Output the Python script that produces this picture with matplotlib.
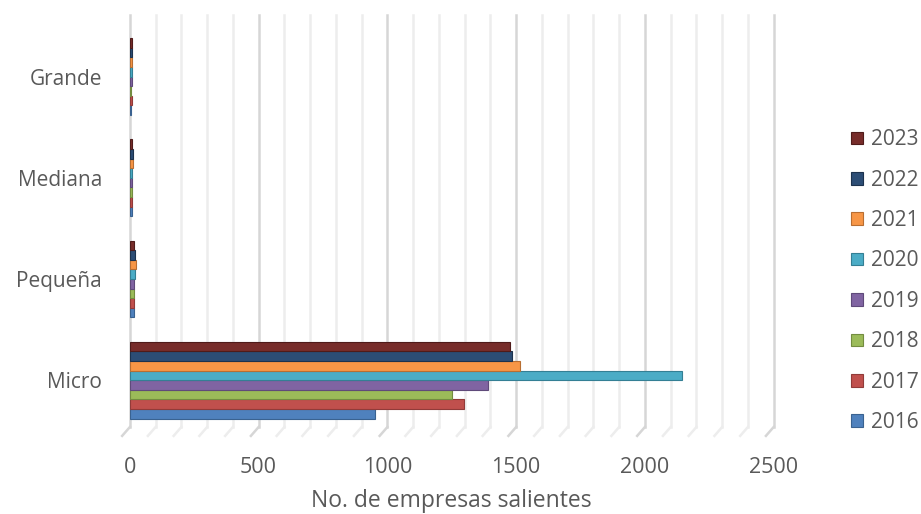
import matplotlib
matplotlib.use('Agg')
import matplotlib.pyplot as plt
import matplotlib.transforms as mtransforms
import numpy as np

plt.rcParams['font.family'] = ['Open Sans', 'DejaVu Sans']

# ── 数据 ──
categories = ['Micro', 'Pequeña', 'Mediana', 'Grande']
years = ['2016', '2017', '2018', '2019', '2020', '2021', '2022', '2023']
values = {
    '2016': [951, 16, 8, 6],
    '2017': [1298, 18, 9, 7],
    '2018': [1251, 17, 8, 6],
    '2019': [1391, 18, 9, 7],
    '2020': [2143, 19, 10, 8],
    '2021': [1516, 22, 14, 9],
    '2022': [1485, 20, 11, 8],
    '2023': [1477, 18, 10, 7],
}
colors = ['#4F81BD', '#C0504D', '#9BBB59', '#8064A2',
          '#4BACC6', '#F79646', '#2C4D75', '#772C2A']
edge_colors = ['#3A6290', '#913B39', '#738C40', '#5F4A7A',
               '#347F94', '#B86E32', '#1C324D', '#4F1B1A']

x_ticks = [0, 500, 1000, 1500, 2000, 2500]
TXT = '#595959'

fig = plt.figure(figsize=(9.21, 5.14), dpi=100)
ax = fig.add_axes([0.141, 0.152, 0.699, 0.819])

# ── 网格线（每100一条，500加深） ──
trans = mtransforms.blended_transform_factory(ax.transData, ax.transAxes)
for v in range(0, 2600, 100):
    c = '#D6D6D6' if v % 500 == 0 else '#EDEDED'
    ax.plot([v, v], [0.021, 1.0], transform=trans, clip_on=False,
            color=c, lw=1.8, zorder=0)
    # 地板斜线
    ax.plot([v, v - 30], [0.021, 0.0], transform=trans, clip_on=False,
            color=c, lw=1.8, zorder=0)

# ── 条形 ──
n = len(years)
group_w = 0.76
bar_h = group_w / n
y = np.arange(len(categories))
for i, yr in enumerate(years):
    off = -group_w / 2 + bar_h * (i + 0.5)
    ax.barh(y + off, values[yr], height=bar_h, color=colors[i],
            edgecolor=edge_colors[i], linewidth=0.8, label=yr, zorder=3)

ax.set_xlim(0, 2500)
ax.set_ylim(-0.55, 3.61)
ax.set_xticks(x_ticks)
ax.set_xticklabels([str(t) for t in x_ticks])
ax.set_yticks(y)
ax.set_yticklabels(categories)
ax.tick_params(axis='x', length=0, pad=15, labelsize=15.5, labelcolor=TXT)
ax.tick_params(axis='y', length=0, pad=20, labelsize=15, labelcolor=TXT)
for s in ax.spines.values():
    s.set_visible(False)

ax.set_xlabel('No. de empresas salientes', fontsize=16.5, color=TXT, labelpad=8)

handles, labels = ax.get_legend_handles_labels()
leg = fig.legend(handles[::-1], labels[::-1], loc='center left',
                 bbox_to_anchor=(0.915, 0.453), frameon=False, fontsize=15,
                 handlelength=0.55, handleheight=0.55, handletextpad=0.4,
                 labelspacing=0.93, borderaxespad=0)
for t in leg.get_texts():
    t.set_color(TXT)

fig.savefig('out.png', dpi=100, facecolor='white')
